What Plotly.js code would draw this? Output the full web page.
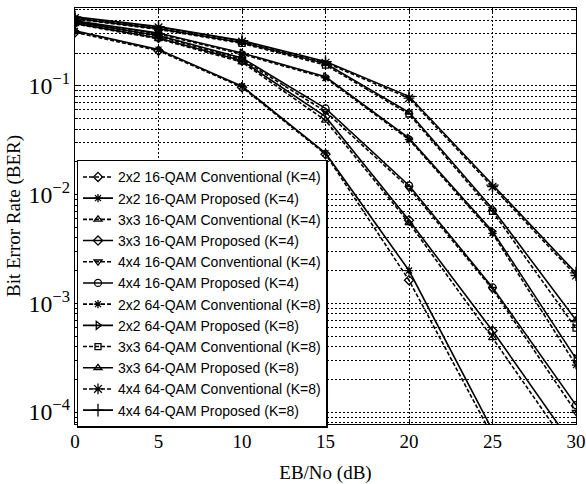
<!DOCTYPE html>
<html>
<head>
<meta charset="utf-8">
<script src="https://cdn.plot.ly/plotly-3.0.1.min.js"></script>
<style>html,body{margin:0;padding:0;background:#fff;}#chart{width:586px;height:484px;}</style>
</head>
<body>
<div id="chart"></div>
<script>
// Eb/No (dB)
const snr = [0, 5, 10, 15, 20, 25, 30];

// BER values
const ber2x2_16_conv = [0.31, 0.21, 0.097, 0.0235, 0.00163, 6.0e-5, 1.0e-6];
const ber2x2_16_prop = [0.32, 0.215, 0.099, 0.024, 0.0020, 6.8e-5, 1.3e-6];
const ber3x3_16_conv = [0.37, 0.27, 0.165, 0.048, 0.0055, 4.8e-4, 3.8e-5];
const ber3x3_16_prop = [0.375, 0.275, 0.17, 0.052, 0.0058, 5.6e-4, 4.5e-5];
const ber4x4_16_conv = [0.38, 0.285, 0.175, 0.058, 0.0115, 1.35e-3, 1.0e-4];
const ber4x4_16_prop = [0.385, 0.29, 0.18, 0.062, 0.0121, 1.4e-3, 1.16e-4];
const ber2x2_64_conv = [0.39, 0.30, 0.195, 0.118, 0.032, 4.4e-3, 2.7e-4];
const ber2x2_64_prop = [0.395, 0.305, 0.20, 0.121, 0.033, 4.6e-3, 3.1e-4];
const ber3x3_64_conv = [0.41, 0.33, 0.245, 0.155, 0.055, 7.0e-3, 5.9e-4];
const ber3x3_64_prop = [0.415, 0.335, 0.25, 0.16, 0.057, 7.4e-3, 7.0e-4];
const ber4x4_64_conv = [0.42, 0.345, 0.255, 0.163, 0.077, 0.0118, 1.8e-3];
const ber4x4_64_prop = [0.43, 0.35, 0.26, 0.167, 0.080, 0.0122, 1.9e-3];

const names = [
  "2x2 16-QAM Conventional (K=4)",
  "2x2 16-QAM Proposed (K=4)",
  "3x3 16-QAM Conventional (K=4)",
  "3x3 16-QAM Proposed (K=4)",
  "4x4 16-QAM Conventional (K=4)",
  "4x4 16-QAM Proposed (K=4)",
  "2x2 64-QAM Conventional (K=8)",
  "2x2 64-QAM Proposed (K=8)",
  "3x3 64-QAM Conventional (K=8)",
  "3x3 64-QAM Proposed (K=8)",
  "4x4 64-QAM Conventional (K=8)",
  "4x4 64-QAM Proposed (K=8)"
];
const series = [ber2x2_16_conv, ber2x2_16_prop, ber3x3_16_conv, ber3x3_16_prop,
  ber4x4_16_conv, ber4x4_16_prop, ber2x2_64_conv, ber2x2_64_prop,
  ber3x3_64_conv, ber3x3_64_prop, ber4x4_64_conv, ber4x4_64_prop];

const symbols = ["diamond-open", "asterisk-open", "triangle-up-open", "diamond-open",
  "triangle-down-open", "circle-open", "asterisk-open", "triangle-right-open",
  "square-open", "triangle-up-open", "asterisk-open", "cross-thin-open"];
const sizes = [7, 7, 7, 7, 7, 7, 7, 7, 6, 7, 9, 9];
const dashes = ["4px,2px", "solid"];

const traces = series.map((y, i) => ({
  x: snr, y: y, name: names[i], type: "scatter", mode: "lines+markers",
  line: {color: "#000", width: 1.6, dash: dashes[i % 2]},
  marker: {symbol: symbols[i], size: sizes[i], color: "#000", line: {color: "#000", width: 1.3}}
}));

const serif = "Liberation Serif, Times New Roman, serif";
const layout = {
  width: 586, height: 484,
  margin: {l: 75, r: 10, t: 8, b: 60},
  paper_bgcolor: "#fff", plot_bgcolor: "#fff",
  showlegend: true,
  legend: {
    x: 0.003, y: 0.635, xanchor: "left", yanchor: "top",
    bgcolor: "#fff", bordercolor: "#000", borderwidth: 1.5,
    font: {family: "Liberation Sans, Arial, sans-serif", size: 14, color: "#000"},
    tracegroupgap: 0
  },
  xaxis: {
    range: [0, 30], tickvals: snr, ticktext: snr.map(String),
    showline: true, linecolor: "#000", linewidth: 1.2, mirror: "ticks",
    ticks: "inside", ticklen: 5, tickcolor: "#000",
    showgrid: true, gridcolor: "#000", griddash: "2px,2px", gridwidth: 1,
    zeroline: false,
    tickfont: {family: serif, size: 19, color: "#000"},
    title: {text: "EB/No (dB)", font: {family: serif, size: 19, color: "#000"}, standoff: 14}
  },
  yaxis: {
    type: "log", range: [-4.11, -0.285], dtick: 1,
    exponentformat: "power",
    showline: true, linecolor: "#000", linewidth: 1.2, mirror: "ticks",
    ticks: "inside", ticklen: 6, tickcolor: "#000",
    showgrid: true, gridcolor: "#000", griddash: "2px,2px", gridwidth: 1,
    minor: {dtick: "D1", showgrid: true, gridcolor: "#000", griddash: "2px,2px", gridwidth: 1, ticks: "inside", ticklen: 3, tickcolor: "#000"},
    zeroline: false,
    tickfont: {family: serif, size: 19, color: "#000"},
    title: {text: "Bit Error Rate (BER)", font: {family: serif, size: 19, color: "#000"}, standoff: 3}
  }
};

Plotly.newPlot("chart", traces, layout, {staticPlot: true, displayModeBar: false});
</script>
</body>
</html>
